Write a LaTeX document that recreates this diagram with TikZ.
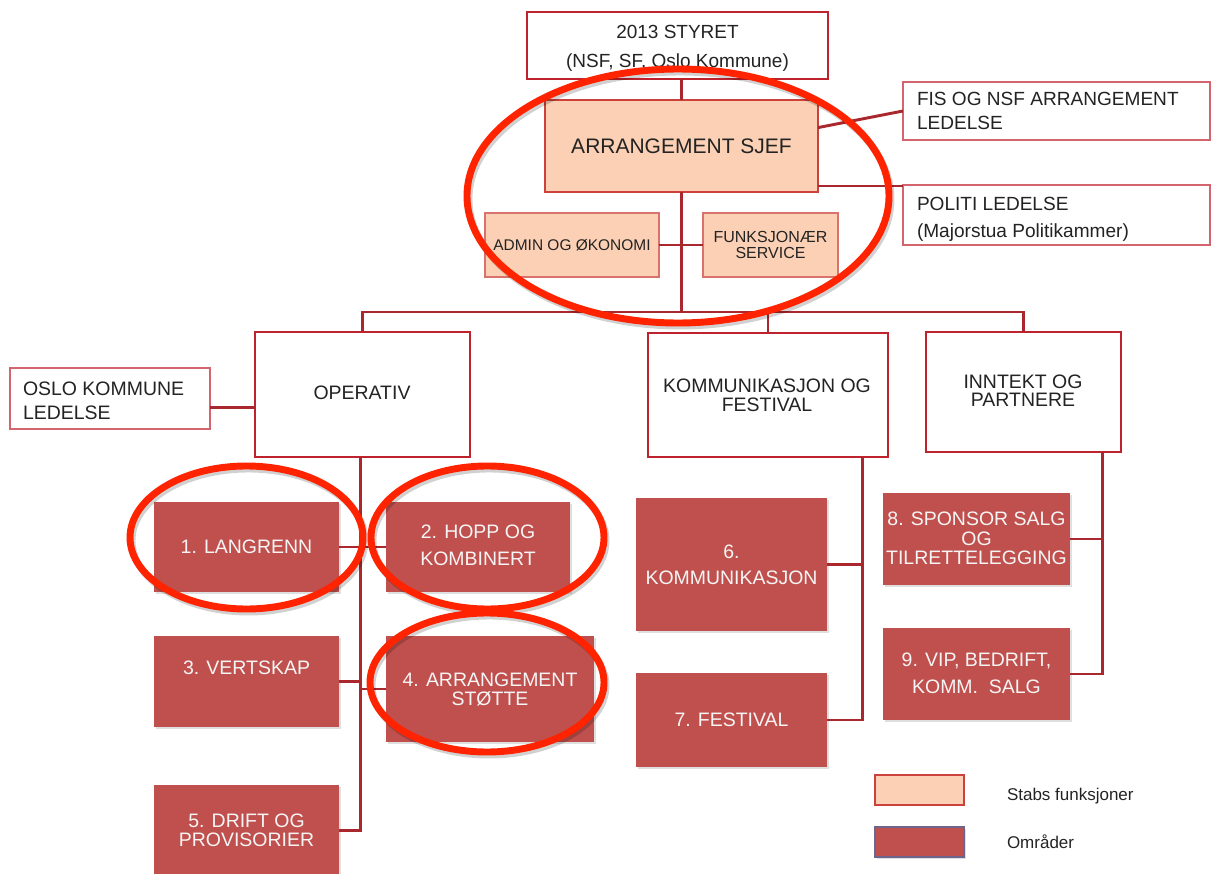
\documentclass[tikz,border=0pt]{standalone}
\usepackage{fontspec}
\setmainfont{Liberation Sans}
\usetikzlibrary{fit,calc,shadows}
\definecolor{wborder}{RGB}{190,35,45}
\definecolor{tborder}{RGB}{212,100,110}
\definecolor{peach}{RGB}{251,208,180}
\definecolor{pborder}{RGB}{205,65,60}
\definecolor{dred}{RGB}{192,80,77}
\definecolor{conn}{RGB}{170,40,45}
\definecolor{ring}{RGB}{255,35,0}
\definecolor{txt}{RGB}{35,35,35}
\definecolor{lgborder}{RGB}{110,100,140}
\newcommand{\myfs}[2]{\fontsize{#1}{#2}\selectfont}
\begin{document}
\begin{tikzpicture}[x=0.75pt,y=-0.75pt,
  every node/.style={inner sep=0pt, outer sep=0pt, text=txt, align=center, font=\myfs{14.6}{14.6}},
  wbox/.style={draw=wborder, line width=2.2pt, fill=white},
  tbox/.style={draw=tborder, line width=1.4pt, fill=white},
  pbox/.style={draw=pborder, line width=2.2pt, fill=peach},
  pboxs/.style={draw=pborder!75, line width=1.4pt, fill=peach},
  dbox/.style={fill=dred, drop shadow={shadow xshift=1.2pt, shadow yshift=-1.2pt, opacity=0.25}},
  wtxt/.style={text=white!96!black},
  link/.style={draw=conn, line width=2.2pt},
  ringst/.style={draw=ring, line width=5.2pt},
  ringsh/.style={draw=black, opacity=0.18, line width=5.2pt},
]
\useasboundingbox (0,0) rectangle (1211,874);
\clip (0,0) rectangle (1211,874);

% top level
\node[wbox, fit={(527,12) (828,79)}] (styret) {};
\node[font=\myfs{14.25}{21.75}] (styrett) at (677.5,48.5) {2013 STYRET\\(NSF, SF, Oslo Kommune)};
\node[pbox, fit={(545,100) (818,192)}] (arrsjef) {};
\node[font=\myfs{15.75}{18}] (arrsjeft) at (arrsjef.center) {ARRANGEMENT SJEF};
\node[pboxs, fit={(485,213) (659,277)}] (admin) {};
\node[font=\myfs{11.6}{14}] (admint) at (admin.center) {ADMIN OG ØKONOMI};
\node[pboxs, fit={(703,213) (838,277)}] (funk) {};
\node[font=\myfs{12}{12}] (funkt) at (funk.center) {FUNKSJONÆR\\SERVICE};

\node[tbox, fit={(903,82) (1210,140)}] (fis) {};
\node[anchor=west, align=left, font=\myfs{14.3}{18}] (fist) at (917,111) {FIS OG NSF ARRANGEMENT\\LEDELSE};
\node[tbox, fit={(903,185) (1210,245)}] (politi) {};
\node[anchor=west, align=left, font=\myfs{14.3}{20.25}] (politit) at (917,219) {POLITI LEDELSE\\(Majorstua Politikammer)};

% second level
\node[tbox, fit={(10,368) (210,429)}] (oslo) {};
\node[anchor=west, align=left, font=\myfs{14.6}{18}] (oslot) at (23,401) {OSLO KOMMUNE\\LEDELSE};
\node[wbox, fit={(255,332) (470,457)}] (operativ) {};
\node (operativt) at (362,393) {OPERATIV};
\node[wbox, fit={(648,333) (888,457)}] (komm) {};
\node[font=\myfs{14.6}{14.25}] (kommt) at (767,395) {KOMMUNIKASJON OG\\FESTIVAL};
\node[wbox, fit={(926,332) (1121,452)}] (inntekt) {};
\node[font=\myfs{14.6}{13.5}] (inntektt) at (1023,391) {INNTEKT OG\\PARTNERE};

% areas
\node[dbox, fit={(154,502) (339,592)}] (langrenn) {};
\node[wtxt] (langrennt) at (246.5,547) {1. LANGRENN};
\node[dbox, fit={(386,502) (570,592)}] (hopp) {};
\node[wtxt, font=\myfs{14.6}{20.25}] (hoppt) at (478,545.5) {2. HOPP OG\\KOMBINERT};
\node[dbox, fit={(154,636) (339,727)}] (vertskap) {};
\node[wtxt] (vertskapt) at (246.5,668) {3. VERTSKAP};
\node[dbox, fit={(386,636) (594,742)}] (stotte) {};
\node[wtxt, font=\myfs{14.6}{14.25}] (stottet) at (490,689.5) {4. ARRANGEMENT\\STØTTE};
\node[dbox, fit={(154,785) (339,876)}] (drift) {};
\node[wtxt, font=\myfs{14.6}{14.25}] (driftt) at (246.5,830.5) {5. DRIFT OG\\PROVISORIER};
\node[dbox, fit={(636,498) (827,631)}] (kommu) {};
\node[wtxt, font=\myfs{14.6}{19.5}] (kommut) at (731.5,565) {6.\\KOMMUNIKASJON};
\node[dbox, fit={(636,673) (827,767)}] (festival) {};
\node[wtxt] (festivalt) at (731.5,720) {7. FESTIVAL};
\node[dbox, fit={(883,493) (1070,585)}] (sponsor) {};
\node[wtxt, font=\myfs{14.6}{14.6}] (sponsort) at (976.5,538.5) {8. SPONSOR SALG\\OG\\TILRETTELEGGING};
\node[dbox, fit={(883,628) (1070,720)}] (vip) {};
\node[wtxt, font=\myfs{14.6}{20.25}] (vipt) at (976.5,673.5) {9. VIP, BEDRIFT,\\KOMM.\ \ SALG};

% legend
\node[pbox, line width=1.4pt, drop shadow={shadow xshift=1pt, shadow yshift=-1pt, opacity=0.25}, fit={(875,775) (964,805)}] (lg1) {};
\node[anchor=base west, font=\myfs{12.75}{15}] (lg1t) at (1007,800) {Stabs funksjoner};
\node[dbox, draw=lgborder, line width=1.2pt, fit={(875,827) (964,857)}] (lg2) {};
\node[anchor=base west, font=\myfs{12.75}{15}] (lg2t) at (1007,848) {Områder};

% connectors
\coordinate (busy) at (0,312);
\draw[link] (arrsjef.north) -- (arrsjef.north |- styret.south);
\draw[link] (arrsjef.south) -- (arrsjef.south |- busy);
\draw[link] (operativ.north) -- (operativ.north |- busy) -- (inntekt.north |- busy) -- (inntekt.north);
\draw[link] (komm.north) -- (komm.north |- busy);
\draw[link] (admin.east) -- (funk.west);
\coordinate (fisfrom) at ($(arrsjef.north east)!0.3!(arrsjef.south east)$);
\draw[link] (fisfrom) -- (fis.west);
\coordinate (polfrom) at ($(arrsjef.north east)!0.935!(arrsjef.south east)$);
\draw[link] (polfrom) -- (polfrom -| politi.west);
\coordinate (oslofrom) at ($(oslo.north east)!0.65!(oslo.south east)$);
\draw[link] (oslofrom) -- (oslofrom -| operativ.west);

\coordinate (optrunk) at ($(operativ.south west)!0.49!(operativ.south east)$);
\draw[link] (optrunk) -- (optrunk |- drift.east) -- (drift.east);
\draw[link] (langrenn.east) -- (hopp.west);
\draw[link] (vertskap.east) -- (vertskap.east -| optrunk);
\draw[link] (stotte.west) -- (stotte.west -| optrunk);

\coordinate (kotrunk) at ($(komm.south west)!0.893!(komm.south east)$);
\draw[link] (kotrunk) |- (festival.east);
\draw[link] (kommu.east) -- (kommu.east -| kotrunk);

\coordinate (intrunk) at ($(inntekt.south west)!0.903!(inntekt.south east)$);
\draw[link] (intrunk) |- (vip.east);
\draw[link] (sponsor.east) -- (sponsor.east -| intrunk);

% red annotation rings
\draw[ringsh] (680,199) ellipse [x radius=211, y radius=127];
\draw[ringsh] (248.5,540.5) ellipse [x radius=116.5, y radius=71.5];
\draw[ringsh] (489.5,540.5) ellipse [x radius=116.5, y radius=71.5];
\draw[ringsh] (489,685.5) ellipse [x radius=117, y radius=69.5];
\draw[ringst] (678,196) ellipse [x radius=211, y radius=127];
\draw[ringst] (246.5,537.5) ellipse [x radius=116.5, y radius=71.5];
\draw[ringst] (487.5,537.5) ellipse [x radius=116.5, y radius=71.5];
\draw[ringst] (487,682.5) ellipse [x radius=117, y radius=69.5];
\end{tikzpicture}
\end{document}
